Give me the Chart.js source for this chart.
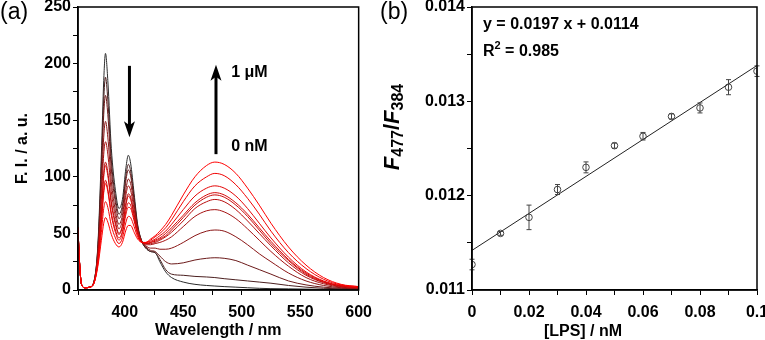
<!DOCTYPE html>
<html>
<head>
<meta charset="utf-8">
<script src="https://cdn.jsdelivr.net/npm/chart.js@4.4.0/dist/chart.umd.min.js"></script>
<style>
html, body { margin: 0; padding: 0; background: #fff; overflow: hidden; }
#wrap { position: relative; width: 765px; height: 340px; overflow: hidden; }
#panelA { position: absolute; left: 0; top: 0; }
#panelB { position: absolute; left: 380px; top: 0; }
</style>
</head>
<body>
<div id="wrap">
<canvas id="panelA" width="380" height="340"></canvas>
<canvas id="panelB" width="400" height="340"></canvas>
</div>
<script>
const FONT = "'Liberation Sans', Arial, Helvetica, sans-serif";

// (a) emission spectra, 0 nM (black) -> 1 uM (red)
const wavelengths = [360, 361, 363, 366, 370, 374, 377, 380, 382, 383.5, 385.5, 388.5, 392, 395, 398, 401, 403, 405, 408, 411, 415, 418, 422, 426, 430, 435, 440, 450, 460, 470, 477, 485, 495, 505, 515, 525, 540, 555, 570, 585, 600];
const fi_c0 = [55, 30, 5, 2, 2.5, 9, 40, 120, 185, 209, 185, 125, 88, 72, 80, 108, 119, 112, 85, 58, 42, 37, 34, 33, 25, 16, 11, 7, 5, 4, 3.5, 3, 2.5, 2, 1.5, 1.2, 1, 0.8, 0.5, 0.3, 0.2];
const fi_c1 = [55, 30, 5, 2, 2.5, 9, 38, 110, 168, 188, 168, 115, 82, 67, 75, 101, 111, 105, 81, 56, 42, 37, 34, 33, 27, 18, 14, 13, 12, 11.5, 11, 10, 9, 8, 7, 6, 4, 2.5, 1.5, 1, 0.5];
const fi_c2 = [55, 30, 5, 2, 2.5, 9, 36, 102, 155, 172, 155, 107, 77, 63, 71, 97, 106, 101, 79, 56, 42, 38, 35, 34, 30, 25, 23, 24, 26.5, 28, 28.5, 28, 26, 22, 18, 14, 8, 4.5, 2.5, 1.5, 1];
const fi_c3 = [55, 30, 5, 2, 2.5, 8, 33, 90, 135, 149, 135, 96, 70, 58, 66, 89, 98, 94, 75, 55, 42, 39, 37, 37, 36, 36, 37, 42, 48, 52, 53, 52, 47, 40, 32, 25, 15, 8, 4, 2, 1];
const fi_c4 = [55, 30, 5, 2, 2.5, 8, 31, 80, 120, 131, 120, 87, 65, 54, 62, 84, 92, 88, 71, 53, 42, 40, 40, 41, 42, 44, 47, 56, 65, 70, 71, 69, 63, 54, 44, 34, 21, 11, 5.5, 2.5, 1.5];
const fi_c5 = [55, 30, 5, 2, 2.5, 8, 28, 70, 103, 113, 104, 78, 60, 50, 57, 77, 85, 82, 67, 51, 42, 41, 41, 42, 44, 47, 51, 61, 72, 78, 80, 78, 71, 61, 50, 39, 24, 13, 6.5, 3, 2];
const fi_c6 = [55, 30, 5, 2, 2.5, 8, 28, 68, 100, 110, 101, 76, 58, 49, 56, 75, 83, 80, 66, 51, 42, 41, 42, 43, 45, 48, 53, 64, 75, 82, 84, 82, 75, 65, 53, 41, 26, 14, 7, 3.5, 2];
const fi_c7 = [55, 30, 5, 2, 2.5, 7, 26, 61, 88, 97, 89, 68, 53, 46, 52, 70, 77, 75, 63, 50, 42, 41, 42, 44, 46, 50, 55, 66, 77, 84, 86, 84, 77, 67, 55, 43, 27, 15, 7.5, 3.5, 2];
const fi_c8 = [55, 30, 5, 2, 2.5, 7, 25, 59, 86, 94, 87, 66, 51, 44, 50, 67, 73, 72, 61, 49, 42, 42, 43, 45, 48, 52, 58, 71, 83, 90, 92, 90, 83, 72, 59, 46, 29, 16, 8, 4, 2.5];
const fi_c9 = [55, 30, 5, 2, 2.5, 7, 23, 51, 72, 78, 73, 57, 46, 41, 46, 60, 65, 64, 56, 47, 42, 42, 44, 47, 50, 55, 62, 78, 92, 100, 103, 101, 93, 81, 67, 52, 33, 19, 9.5, 4.5, 3];
const fi_c10 = [55, 30, 5, 2, 2.5, 7, 21, 44, 59, 64, 60, 49, 41, 38, 42, 53, 57, 57, 51, 45, 42, 42, 45, 48, 52, 58, 66, 84, 100, 110, 113, 111, 103, 90, 75, 59, 38, 22, 11, 5, 3];

// (b) calibration
const lpsConc = [0, 0.01, 0.02, 0.03, 0.04, 0.05, 0.06, 0.07, 0.08, 0.09, 0.1];
const ratio = [0.01127, 0.01160, 0.01177, 0.012065, 0.01230, 0.01253, 0.01263, 0.01284, 0.01293, 0.01315, 0.01332];
const ratioErr = [0.000056, 0.00002, 0.00013, 0.000053, 0.000058, 0.000027, 0.00004, 0.000027, 0.000053, 0.00008, 0.000056];
const fitX = [0, 0.1];
const fitY = [0.01142, 0.01338];

const spectra = [fi_c0, fi_c1, fi_c2, fi_c3, fi_c4, fi_c5, fi_c6, fi_c7, fi_c8, fi_c9, fi_c10];
const spectrumColors = ['#2b2b2b', '#4a1f1f', '#6b1a1a', '#8a1616', '#a51212', '#b80e0e', '#c80b0b', '#d60808', '#e30505', '#f00303', '#ff0000'];

const tickFont = { family: FONT, size: 16, weight: 'bold' };

function axisGrid() {
    return { display: true, drawOnChartArea: false, drawTicks: true, tickLength: 5, color: '#000', lineWidth: 1 };
}

function drawArrow(ctx, x, yFrom, yTo) {
    const dir = yTo > yFrom ? 1 : -1;
    ctx.lineWidth = 3;
    ctx.beginPath();
    ctx.moveTo(x, yFrom);
    ctx.lineTo(x, yTo - dir * 10);
    ctx.stroke();
    ctx.beginPath();
    ctx.moveTo(x, yTo);
    ctx.lineTo(x - 5.5, yTo - dir * 16);
    ctx.lineTo(x, yTo - dir * 12);
    ctx.lineTo(x + 5.5, yTo - dir * 16);
    ctx.closePath();
    ctx.fill();
}

const panelADecor = {
    id: 'panelADecor',
    afterDraw(chart) {
        const { ctx, chartArea: a, scales: { x, y } } = chart;
        ctx.save();
        ctx.strokeStyle = '#000';
        ctx.fillStyle = '#000';
        ctx.lineWidth = 1.5;
        ctx.strokeRect(a.left, a.top, a.right - a.left, a.bottom - a.top);

        drawArrow(ctx, x.getPixelForValue(404), y.getPixelForValue(198), y.getPixelForValue(135));
        drawArrow(ctx, x.getPixelForValue(478), y.getPixelForValue(120), y.getPixelForValue(199));

        ctx.font = 'bold 16px ' + FONT;
        ctx.textBaseline = 'middle';
        ctx.textAlign = 'left';
        ctx.fillText('1 μM', x.getPixelForValue(491), y.getPixelForValue(192));
        ctx.fillText('0 nM', x.getPixelForValue(491), y.getPixelForValue(127));

        ctx.font = '23px ' + FONT;
        ctx.fillText('(a)', 0, 13);
        ctx.restore();
    }
};

const panelBDecor = {
    id: 'panelBDecor',
    afterDatasetsDraw(chart) {
        const { ctx, scales: { x, y } } = chart;
        ctx.save();
        ctx.strokeStyle = '#444';
        ctx.lineWidth = 1;
        lpsConc.forEach((c, i) => {
            const px = x.getPixelForValue(c);
            const top = y.getPixelForValue(ratio[i] + ratioErr[i]);
            const bot = y.getPixelForValue(ratio[i] - ratioErr[i]);
            ctx.beginPath();
            ctx.moveTo(px, top);
            ctx.lineTo(px, bot);
            ctx.moveTo(px - 2.5, top);
            ctx.lineTo(px + 2.5, top);
            ctx.moveTo(px - 2.5, bot);
            ctx.lineTo(px + 2.5, bot);
            ctx.stroke();
        });
        ctx.restore();
    },
    afterDraw(chart) {
        const { ctx, chartArea: a } = chart;
        ctx.save();
        ctx.strokeStyle = '#000';
        ctx.fillStyle = '#000';
        ctx.lineWidth = 1.5;
        ctx.strokeRect(a.left, a.top, a.right - a.left, a.bottom - a.top);
        ctx.textBaseline = 'middle';
        ctx.textAlign = 'left';

        // equation and R^2
        ctx.font = 'bold 16px ' + FONT;
        ctx.fillText('y = 0.0197 x + 0.0114', a.left + 11, 25);
        let tx = a.left + 11;
        ctx.fillText('R', tx, 52);
        tx += ctx.measureText('R').width;
        ctx.font = 'bold 11px ' + FONT;
        ctx.fillText('2', tx, 46);
        tx += ctx.measureText('2').width;
        ctx.font = 'bold 16px ' + FONT;
        ctx.fillText(' = 0.985', tx, 52);

        // x title
        ctx.textAlign = 'center';
        ctx.fillText('[LPS] / nM', a.left + 111, 332);

        // y title F477/F384
        const parts = [
            { t: 'F', f: 'italic bold 22px ' + FONT, dy: 0 },
            { t: '477', f: 'bold 16px ' + FONT, dy: 6 },
            { t: '/', f: 'bold 22px ' + FONT, dy: 0 },
            { t: 'F', f: 'italic bold 22px ' + FONT, dy: 0 },
            { t: '384', f: 'bold 16px ' + FONT, dy: 6 }
        ];
        let total = 0;
        parts.forEach(p => { ctx.font = p.f; p.w = ctx.measureText(p.t).width; total += p.w; });
        ctx.translate(13, 127);
        ctx.rotate(-Math.PI / 2);
        ctx.textAlign = 'left';
        let px = -total / 2;
        parts.forEach(p => { ctx.font = p.f; ctx.fillText(p.t, px, p.dy); px += p.w; });
        ctx.setTransform(1, 0, 0, 1, 0, 0);

        ctx.font = '23px ' + FONT;
        ctx.textBaseline = 'middle';
        ctx.fillText('(b)', 0, 13);
        ctx.restore();
    }
};

new Chart(document.getElementById('panelA'), {
    type: 'line',
    data: {
        datasets: spectra.map((s, i) => ({
            data: wavelengths.map((w, j) => ({ x: w, y: s[j] })),
            borderColor: spectrumColors[i],
            borderWidth: 1,
            pointRadius: 0,
            cubicInterpolationMode: 'monotone',
            fill: false,
            order: spectra.length - i
        }))
    },
    options: {
        responsive: false,
        animation: false,
        layout: { padding: { left: 0, right: 21, top: 7, bottom: 0 } },
        plugins: { legend: { display: false }, tooltip: { enabled: false } },
        scales: {
            x: {
                type: 'linear', min: 360, max: 600,
                afterFit: s => { s.height = 50; },
                ticks: { stepSize: 25, autoSkip: false, maxRotation: 0, color: '#000', font: tickFont, padding: 8,
                    callback: v => (v % 50 === 0 ? v : '') },
                grid: axisGrid(),
                border: { color: '#000', width: 1.5 },
                title: { display: true, text: 'Wavelength / nm', color: '#000', font: { family: FONT, size: 16, weight: 'bold' }, padding: { top: 0, bottom: 0 } }
            },
            y: {
                min: 0, max: 250,
                afterFit: s => { s.width = 78; s.paddingTop = 0; s.paddingBottom = 0; },
                ticks: { stepSize: 25, autoSkip: false, color: '#000', font: tickFont, padding: 2,
                    callback: v => (v % 50 === 0 ? v : '') },
                grid: axisGrid(),
                border: { color: '#000', width: 1.5 },
                title: { display: true, text: 'F. I. / a. u.', color: '#000', font: { family: FONT, size: 16, weight: 'bold' }, padding: { top: 13, bottom: 0 } }
            }
        }
    },
    plugins: [panelADecor]
});

new Chart(document.getElementById('panelB'), {
    type: 'line',
    data: {
        datasets: [
            {
                data: lpsConc.map((c, i) => ({ x: c, y: ratio[i] })),
                showLine: false,
                pointStyle: 'circle',
                pointRadius: 3.3,
                borderColor: '#444',
                pointBorderWidth: 1,
                pointBackgroundColor: 'rgba(0,0,0,0)'
            },
            {
                data: fitX.map((c, i) => ({ x: c, y: fitY[i] })),
                borderColor: '#222',
                borderWidth: 1,
                pointRadius: 0,
                fill: false
            }
        ]
    },
    options: {
        responsive: false,
        animation: false,
        layout: { padding: { left: 0, right: 23, top: 7, bottom: 0 } },
        plugins: { legend: { display: false }, tooltip: { enabled: false } },
        scales: {
            x: {
                type: 'linear', min: 0, max: 0.1,
                afterFit: s => { s.height = 50; },
                ticks: { stepSize: 0.01, autoSkip: false, maxRotation: 0, color: '#000', font: tickFont, padding: 8,
                    callback: v => {
                        const k = Math.round(v * 100);
                        if (k % 2 !== 0) return '';
                        if (k === 0) return '0';
                        if (k === 10) return '0.1';
                        return (k / 100).toFixed(2);
                    } },
                grid: axisGrid(),
                border: { color: '#000', width: 1.5 }
            },
            y: {
                min: 0.011, max: 0.014,
                afterFit: s => { s.width = 92; s.paddingTop = 0; s.paddingBottom = 0; },
                ticks: { stepSize: 0.0005, autoSkip: false, color: '#000', font: tickFont, padding: 2,
                    callback: v => (Math.round(v * 10000) % 10 === 0 ? v.toFixed(3) : '') },
                grid: axisGrid(),
                border: { color: '#000', width: 1.5 }
            }
        }
    },
    plugins: [panelBDecor]
});
</script>
</body>
</html>
